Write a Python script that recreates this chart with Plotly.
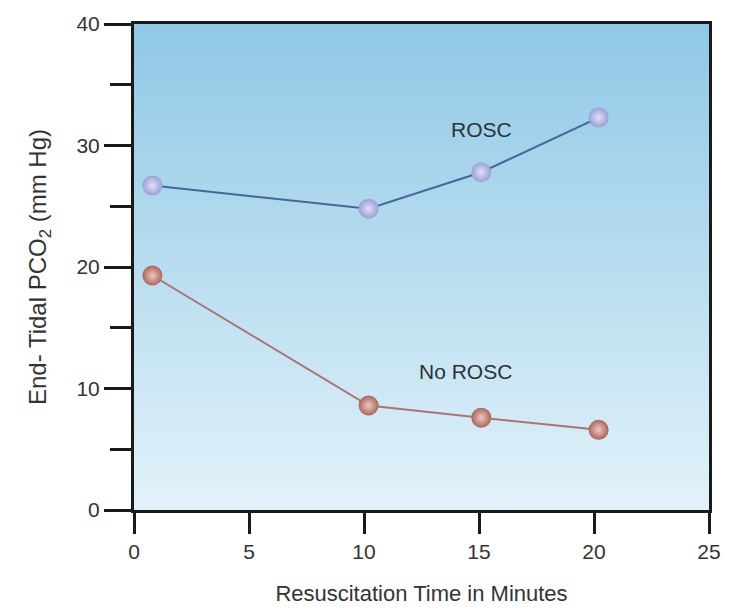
import plotly.graph_objects as go

# data
minutes_rosc = [0.8, 10.2, 15.1, 20.2]
etco2_rosc = [26.7, 24.8, 27.8, 32.3]
minutes_no_rosc = [0.8, 10.2, 15.1, 20.2]
etco2_no_rosc = [19.3, 8.6, 7.6, 6.6]

x_range = [0, 25]
y_range = [0, 40]

fig = go.Figure()

# gradient panel behind the data
fig.add_trace(go.Scatter(
    x=[x_range[0], x_range[1], x_range[1], x_range[0], x_range[0]],
    y=[y_range[0], y_range[0], y_range[1], y_range[1], y_range[0]],
    mode='lines',
    line=dict(width=0),
    fill='toself',
    fillgradient=dict(
        type='vertical',
        colorscale=[[0, '#e2f2f9'], [1, '#8fc8e6']],
    ),
    hoverinfo='skip',
    showlegend=False,
))

fig.add_trace(go.Scatter(
    x=minutes_rosc,
    y=etco2_rosc,
    mode='lines+markers',
    line=dict(color='#46669a', width=2),
    marker=dict(size=20, color='#9a9ed6',
                gradient=dict(type='radial', color='#dfe1f8'),
                line=dict(width=0)),
    name='ROSC',
    showlegend=False,
))

fig.add_trace(go.Scatter(
    x=minutes_no_rosc,
    y=etco2_no_rosc,
    mode='lines+markers',
    line=dict(color='#a87478', width=2),
    marker=dict(size=20, color='#a8665e',
                gradient=dict(type='radial', color='#f0c8be'),
                line=dict(width=0)),
    name='No ROSC',
    showlegend=False,
))

label_font = dict(family='Liberation Sans, Arial, sans-serif', size=21, color='#2b3238')
fig.add_annotation(x=15.1, y=31.3, text='ROSC', showarrow=False, font=label_font)
fig.add_annotation(x=14.4, y=11.4, text='No ROSC', showarrow=False, font=label_font)

tick_font = dict(family='Liberation Sans, Arial, sans-serif', size=21, color='#333333')

fig.update_layout(
    width=733,
    height=615,
    paper_bgcolor='white',
    plot_bgcolor='white',
    margin=dict(l=134, r=20, t=24, b=103),
    font=tick_font,
    xaxis=dict(
        range=x_range,
        tickvals=[0, 5, 10, 15, 20, 25],
        ticks='outside',
        ticklen=21,
        tickwidth=3,
        tickcolor='#1a1a1a',
        showline=True,
        linewidth=3,
        linecolor='#1a1a1a',
        mirror=True,
        showgrid=False,
        zeroline=False,
        title=dict(text='Resuscitation Time in Minutes',
                   font=dict(family='Liberation Sans, Arial, sans-serif', size=22, color='#333333'),
                   standoff=24),
        tickfont=tick_font,
    ),
    yaxis=dict(
        range=y_range,
        tickvals=[0, 10, 20, 30, 40],
        ticks='outside',
        ticklen=27,
        tickwidth=3,
        tickcolor='#1a1a1a',
        minor=dict(dtick=5, ticks='outside', ticklen=21, tickwidth=3, tickcolor='#1a1a1a'),
        showline=True,
        linewidth=3,
        linecolor='#1a1a1a',
        mirror=True,
        showgrid=False,
        zeroline=False,
        title=dict(text='End- Tidal PCO<sub>2</sub> (mm Hg)',
                   font=dict(family='Liberation Sans, Arial, sans-serif', size=24, color='#333333'),
                   standoff=24),
        tickfont=tick_font,
    ),
)

fig.write_html('out.html', config={'displayModeBar': False},
               post_script="document.body.style.margin='0';")
